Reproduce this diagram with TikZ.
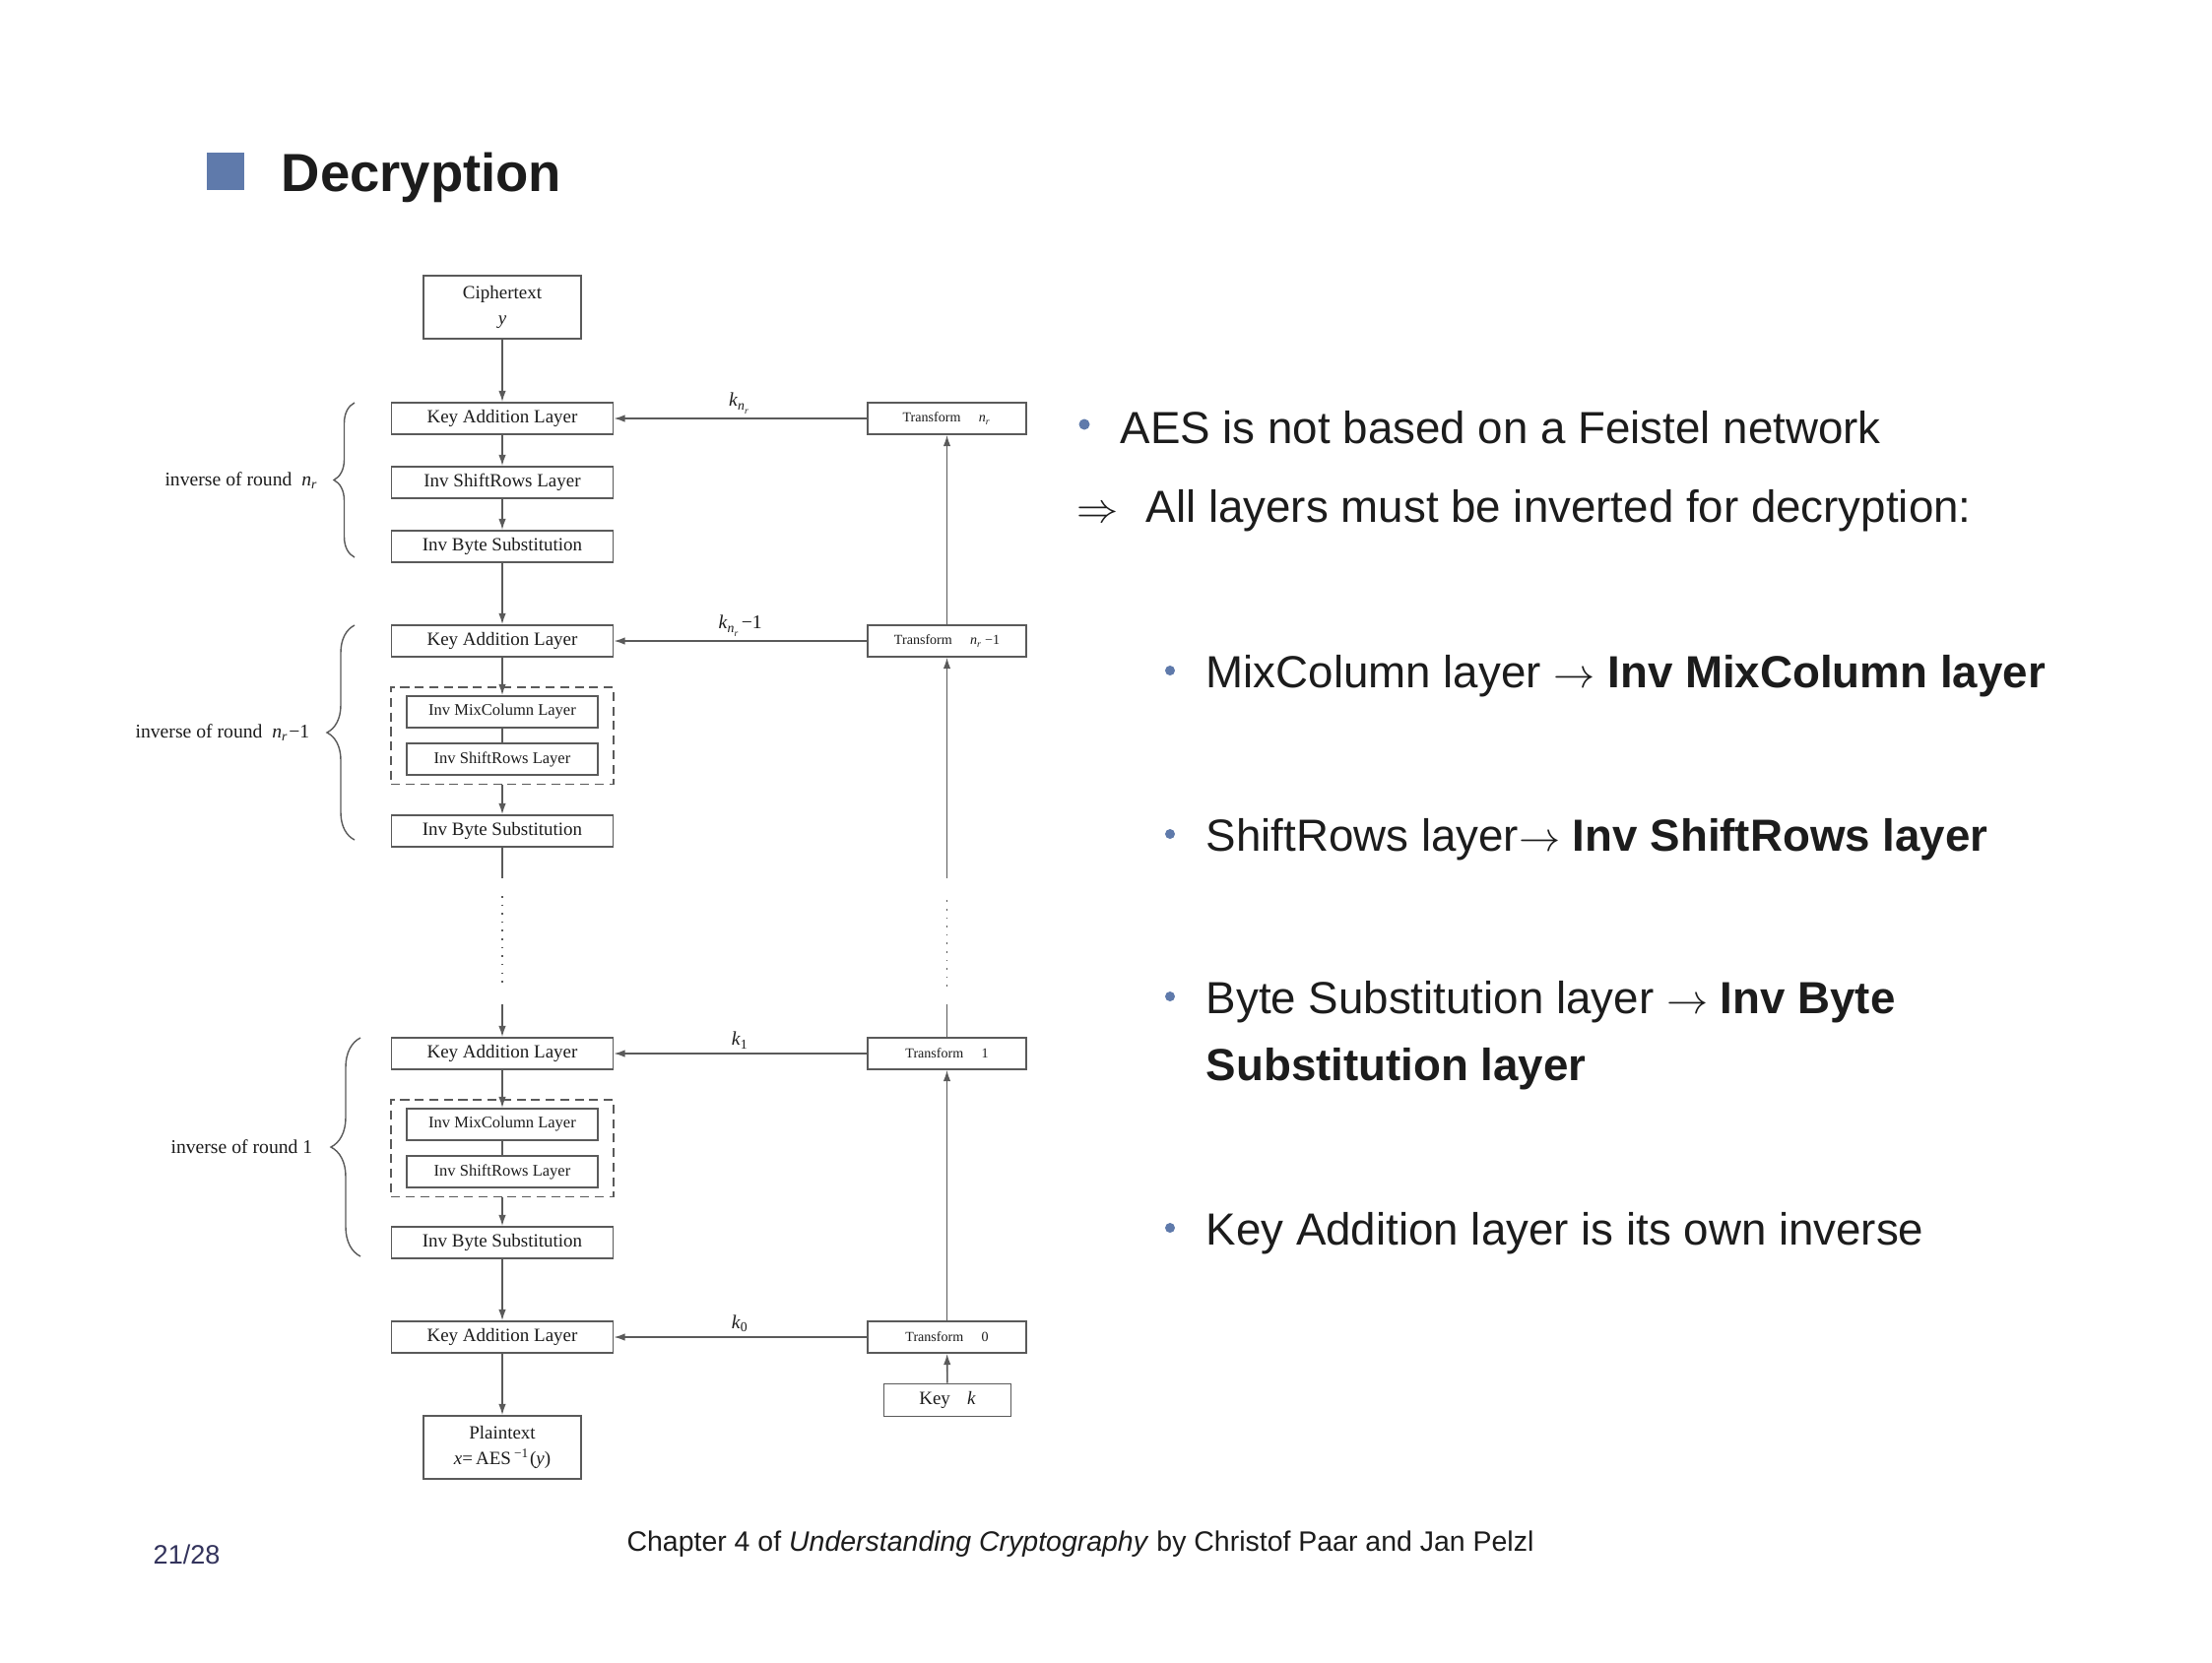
\documentclass[tikz,border=0pt]{standalone}
\usepackage{fontspec}
\setmainfont{Liberation Sans}
\newfontfamily\diagfont{Liberation Serif}
\usetikzlibrary{arrows.meta,fit,decorations.pathreplacing}

\definecolor{slideblue}{HTML}{5F7AAB}
\definecolor{linegray}{HTML}{5A5A5A}
\definecolor{textblack}{HTML}{1C1C1C}
\definecolor{pagenum}{HTML}{33335C}

\tikzset{
  diagbox/.style={draw=linegray, line width=0.45pt, inner sep=0pt, text=textblack,
    font=\diagfont\fontsize{5.4}{6.5}\selectfont},
  layerbox/.style={diagbox, minimum width=2.25cm, minimum height=0.32cm},
  innerbox/.style={diagbox, minimum width=1.94cm, minimum height=0.32cm,
    font=\diagfont\fontsize{4.7}{5.5}\selectfont},
  transbox/.style={diagbox, minimum width=1.61cm, minimum height=0.32cm,
    font=\diagfont\fontsize{4}{5}\selectfont},
  iobox/.style={diagbox, minimum width=1.6cm, minimum height=0.64cm, align=center,
    font=\diagfont\fontsize{5.4}{7.6}\selectfont},
  keybox/.style={diagbox, minimum width=1.29cm, minimum height=0.33cm},
  groupframe/.style={draw=linegray, line width=0.45pt, dash pattern=on 2.6pt off 1.6pt,
    inner xsep=0.15cm, inner ysep=0.085cm},
  plainlink/.style={draw=linegray, line width=0.45pt},
  flowarrow/.style={plainlink, -{Latex[length=3.2pt,width=2.1pt]}},
  keylabel/.style={midway, above=1.2pt, inner sep=0pt, text=textblack,
    font=\diagfont\fontsize{5.6}{6.5}\selectfont},
  roundbrace/.style={decorate, decoration={brace, amplitude=#1}, draw=linegray, line width=0.4pt},
  bracelabel/.style={anchor=east, inner sep=0pt, text=textblack,
    font=\diagfont\fontsize{5.6}{6.5}\selectfont},
  slidetext/.style={anchor=base west, inner sep=0pt, text=textblack,
    font=\fontsize{13}{15.6}\selectfont},
  bulletdot/.style={circle, fill=slideblue, inner sep=0pt, minimum size=#1},
}

\begin{document}
\begin{tikzpicture}
\useasboundingbox (0,0) rectangle (22.46,-16.88);
\fill[white] (0,0) rectangle (22.46,-16.88);

% title
\fill[slideblue] (2.10,-1.55) rectangle (2.48,-1.93);
\node[anchor=base west, inner sep=0pt, text=textblack, font=\bfseries\fontsize{15.5}{18}\selectfont] (title) at (2.85,-1.94) {Decryption};

% decryption chain
\node[iobox] (cipher) at (5.10,-3.12) {Ciphertext\\\textit{y}};
\node[layerbox] (ka1) at (5.10,-4.25) {Key Addition Layer};
\node[layerbox] (isr1) at (5.10,-4.90) {Inv ShiftRows Layer};
\node[layerbox] (ibs1) at (5.10,-5.55) {Inv Byte Substitution};
\node[layerbox] (ka2) at (5.10,-6.51) {Key Addition Layer};
\node[innerbox] (imc2) at (5.10,-7.23) {Inv MixColumn Layer};
\node[innerbox] (isr2) at (5.10,-7.71) {Inv ShiftRows Layer};
\node[groupframe, fit=(imc2)(isr2)] (grp2) {};
\node[layerbox] (ibs2) at (5.10,-8.44) {Inv Byte Substitution};
\node[layerbox] (ka3) at (5.10,-10.70) {Key Addition Layer};
\node[innerbox] (imc3) at (5.10,-11.42) {Inv MixColumn Layer};
\node[innerbox] (isr3) at (5.10,-11.90) {Inv ShiftRows Layer};
\node[groupframe, fit=(imc3)(isr3)] (grp3) {};
\node[layerbox] (ibs3) at (5.10,-12.62) {Inv Byte Substitution};
\node[layerbox] (ka4) at (5.10,-13.58) {Key Addition Layer};
\node[iobox] (plain) at (5.10,-14.70) {Plaintext\\\textit{x}=\,AES\,\textsuperscript{−1}(\textit{y})};

% key schedule
\node[transbox] (tnr) at (9.615,-4.25) {Transform\hspace{1.3em}\textit{n\textsubscript{r}}};
\node[transbox] (tnr1) at (9.615,-6.51) {Transform\hspace{1.3em}\textit{n\textsubscript{r}}\,−1};
\node[transbox] (tone) at (9.615,-10.70) {Transform\hspace{1.3em}1};
\node[transbox] (tzero) at (9.615,-13.58) {Transform\hspace{1.3em}0};
\node[keybox] (key) at (9.62,-14.22) {Key\hspace{0.9em}\textit{k}};

% breaks in both columns
\coordinate (lcut1) at (5.10,-8.92);
\coordinate (ldot1) at (5.10,-9.10);
\coordinate (ldot2) at (5.10,-10.02);
\coordinate (lcut2) at (5.10,-10.20);
\coordinate (rcut1) at (9.615,-8.92);
\coordinate (rdot1) at (9.615,-9.10);
\coordinate (rdot2) at (9.615,-10.02);
\coordinate (rcut2) at (9.615,-10.20);

% data path
\draw[flowarrow] (cipher) -- (ka1);
\draw[flowarrow] (ka1) -- (isr1);
\draw[flowarrow] (isr1) -- (ibs1);
\draw[flowarrow] (ibs1) -- (ka2);
\draw[flowarrow] (ka2) -- (imc2);
\draw[plainlink] (imc2) -- (isr2);
\draw[flowarrow] (grp2) -- (ibs2);
\draw[plainlink] (ibs2) -- (lcut1);
\draw[plainlink, dotted] (ldot1) -- (ldot2);
\draw[flowarrow] (lcut2) -- (ka3);
\draw[flowarrow] (ka3) -- (imc3);
\draw[plainlink] (imc3) -- (isr3);
\draw[flowarrow] (grp3) -- (ibs3);
\draw[flowarrow] (ibs3) -- (ka4);
\draw[flowarrow] (ka4) -- (plain);

% key path
\draw[flowarrow] (key) -- (tzero);
\draw[flowarrow] (tzero) -- (tone);
\draw[plainlink] (tone) -- (rcut2);
\draw[plainlink, dotted] (rdot2) -- (rdot1);
\draw[flowarrow] (rcut1) -- (tnr1);
\draw[flowarrow] (tnr1) -- (tnr);

% round keys
\draw[flowarrow] (tnr) -- node[keylabel] {\textit{k}\textsubscript{\textit{n}\textsubscript{\textit{r}}}} (ka1);
\draw[flowarrow] (tnr1) -- node[keylabel] {\textit{k}\textsubscript{\textit{n}\textsubscript{\textit{r}}}−1} (ka2);
\draw[flowarrow] (tone) -- node[keylabel] {\textit{k}\textsubscript{1}} (ka3);
\draw[flowarrow] (tzero) -- node[keylabel] {\textit{k}\textsubscript{0}} (ka4);

% rounds
\draw[roundbrace=0.21cm] (3.60,-5.66) -- (3.60,-4.09);
\node[bracelabel] (lbl1) at (3.24,-4.88) {inverse of round\hspace{0.5em}\textit{n\textsubscript{r}}};
\draw[roundbrace=0.28cm] (3.60,-8.53) -- (3.60,-6.35);
\node[bracelabel] (lbl2) at (3.15,-7.44) {inverse of round\hspace{0.5em}\textit{n\textsubscript{r}}−1};
\draw[roundbrace=0.30cm] (3.66,-12.76) -- (3.66,-10.54);
\node[bracelabel] (lbl3) at (3.18,-11.65) {inverse of round 1};

% bullet text
\node[bulletdot=0.11cm] (dot1) at (11.01,-4.31) {};
\node[slidetext] (txt1) at (11.37,-4.50) {AES is not based on a Feistel network};
\node[slidetext] (impl) at (10.93,-5.30) {$\Rightarrow$};
\node[slidetext] (txt2) at (11.63,-5.30) {All layers must be inverted for decryption:};

\node[bulletdot=0.10cm] (dot3) at (11.88,-6.81) {};
\node[slidetext] (txt3) at (12.24,-6.98) {MixColumn layer $\rightarrow$ \textbf{Inv MixColumn layer}};
\node[bulletdot=0.10cm] (dot4) at (11.88,-8.47) {};
\node[slidetext] (txt4) at (12.24,-8.64) {ShiftRows layer$\rightarrow$ \textbf{Inv ShiftRows layer}};
\node[bulletdot=0.10cm] (dot5) at (11.88,-10.12) {};
\node[slidetext] (txt5) at (12.24,-10.29) {Byte Substitution layer $\rightarrow$ \textbf{Inv Byte}};
\node[slidetext] (txt5b) at (12.24,-10.97) {\textbf{Substitution layer}};
\node[bulletdot=0.10cm] (dot6) at (11.88,-12.47) {};
\node[slidetext] (txt6) at (12.24,-12.64) {Key Addition layer is its own inverse};

% footer
\node[anchor=base, inner sep=0pt, text=textblack, font=\fontsize{8.1}{10}\selectfont] (foot) at (10.97,-15.75) {Chapter 4 of \textit{Understanding Cryptography} by Christof Paar and Jan Pelzl};
\node[anchor=base west, inner sep=0pt, text=pagenum, font=\fontsize{7.7}{10}\selectfont] (page) at (1.55,-15.88) {21/28};
\end{tikzpicture}
\end{document}
